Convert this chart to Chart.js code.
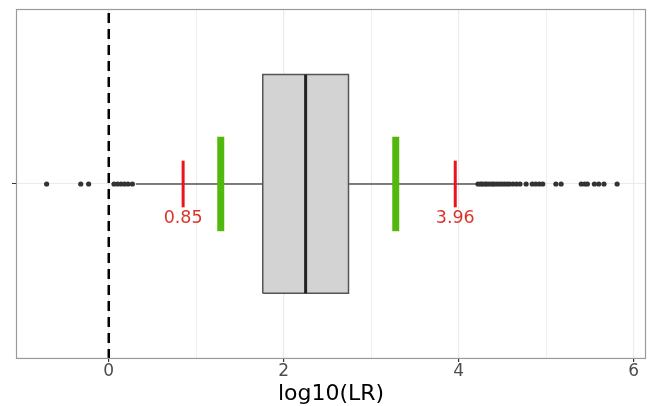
<!DOCTYPE html>
<html>
<head>
<meta charset="utf-8">
<script src="https://cdn.jsdelivr.net/npm/chart.js@4"></script>
<style>
  html, body { margin: 0; padding: 0; background: #fff; }
  canvas { display: block; }
</style>
</head>
<body>
<canvas id="chart" width="651" height="406"></canvas>
<script>
// box statistics (log10 LR)
const q1 = 1.76, median = 2.25, q3 = 2.74;
const whiskerLow = 0.31, whiskerHigh = 4.21;
const outliers = [-0.71, -0.32, -0.23, 0.06, 0.1, 0.14, 0.18, 0.22, 0.27,
  4.22, 4.25, 4.27, 4.3, 4.32, 4.35, 4.38, 4.4, 4.43, 4.46, 4.49, 4.52, 4.55, 4.58, 4.62, 4.66, 4.7,
  4.77, 4.84, 4.88, 4.92, 4.96, 5.11, 5.17, 5.4, 5.44, 5.47, 5.55, 5.6, 5.66, 5.81];
const redMarks = [0.85, 3.96];
const redLabels = ['0.85', '3.96'];
const greenMarks = [1.28, 3.28];
const xTicks = [0, 1, 2, 3, 4, 5, 6];
const xLabels = ['0', '', '2', '', '4', '', '6'];

const mid = 1, boxHalf = 0.375, greenHalf = 0.162, redHalf = 0.08;

function vseg(x, half) {
  return [{ x: x, y: mid - half }, { x: x, y: mid + half }];
}

const datasets = [
  { data: [{ x: whiskerLow, y: mid }, { x: q1, y: mid }], borderColor: '#555', borderWidth: 1.5, order: 9 },
  { data: [{ x: q3, y: mid }, { x: whiskerHigh, y: mid }], borderColor: '#555', borderWidth: 1.5, order: 9 },
  { data: [{ x: q1, y: mid - boxHalf }, { x: q3, y: mid - boxHalf }, { x: q3, y: mid + boxHalf }, { x: q1, y: mid + boxHalf }, { x: q1, y: mid - boxHalf }],
    borderColor: '#555', borderWidth: 1.5, backgroundColor: '#d3d3d3', fill: 'shape', order: 8 },
  { data: vseg(median, boxHalf), borderColor: '#222', borderWidth: 3, order: 7 },
  { data: outliers.map(v => ({ x: v, y: mid })), showLine: false, pointRadius: 2.6,
    pointBackgroundColor: '#333', pointBorderWidth: 0, order: 6 },
  { data: vseg(0, 0.6), borderColor: '#000', borderWidth: 2.5, borderDash: [10, 6], order: 5 }
];
greenMarks.forEach(v => datasets.push({ data: vseg(v, greenHalf), borderColor: '#52b80c', borderWidth: 7, order: 4 }));
redMarks.forEach(v => datasets.push({ data: vseg(v, redHalf), borderColor: '#e8161c', borderWidth: 3, order: 3 }));
datasets.forEach(d => { if (d.showLine !== false) { d.showLine = true; d.pointRadius = 0; } });

const labelPlugin = {
  id: 'labels',
  afterDatasetsDraw(chart) {
    const { ctx, scales: { x, y } } = chart;
    ctx.save();
    ctx.font = '17.5px "DejaVu Sans"';
    ctx.fillStyle = '#d9352b';
    ctx.textAlign = 'center';
    ctx.textBaseline = 'middle';
    redMarks.forEach((v, i) => ctx.fillText(redLabels[i], x.getPixelForValue(v), y.getPixelForValue(mid - 0.118)));
    ctx.restore();
  },
  afterDraw(chart) {
    const { ctx, chartArea: a } = chart;
    ctx.save();
    ctx.strokeStyle = '#9a9a9a';
    ctx.lineWidth = 1.2;
    ctx.strokeRect(a.left + 0.5, a.top + 0.5, a.right - a.left - 1, a.bottom - a.top - 1);
    ctx.restore();
  }
};

new Chart(document.getElementById('chart'), {
  type: 'scatter',
  data: { datasets },
  options: {
    responsive: false,
    animation: false,
    devicePixelRatio: 1,
    layout: { padding: { left: 12, right: 5, top: 9, bottom: 0 } },
    plugins: { legend: { display: false }, tooltip: { enabled: false } },
    scales: {
      x: {
        type: 'linear', min: -1.06, max: 6.14,
        afterBuildTicks: s => { s.ticks = xTicks.map(v => ({ value: v })); },
        ticks: {
          callback: (v) => xLabels[xTicks.indexOf(v)] ?? '',
          color: '#4d4d4d', font: { family: 'DejaVu Sans', size: 17, lineHeight: 1.05 }, padding: 1,
          autoSkip: false, maxRotation: 0
        },
        grid: {
          color: '#ebebeb',
          lineWidth: c => (c.tick && c.tick.value % 2 === 0) ? 1.2 : 0.8,
          tickColor: c => (c.tick && c.tick.value % 2 === 0) ? '#333' : 'rgba(0,0,0,0)',
          tickLength: 3
        },
        border: { display: false },
        title: { display: true, text: 'log10(LR)', color: '#000', font: { family: 'DejaVu Sans', size: 22, lineHeight: 1.1 }, padding: { top: 0, bottom: 0 } }
      },
      y: {
        type: 'linear', min: 0.4, max: 1.6,
        afterBuildTicks: s => { s.ticks = [{ value: mid }]; },
        ticks: { callback: () => '', padding: 0 },
        grid: { color: '#ebebeb', tickColor: '#333', tickLength: 4 },
        border: { display: false }
      }
    }
  },
  plugins: [labelPlugin]
});
</script>
</body>
</html>
